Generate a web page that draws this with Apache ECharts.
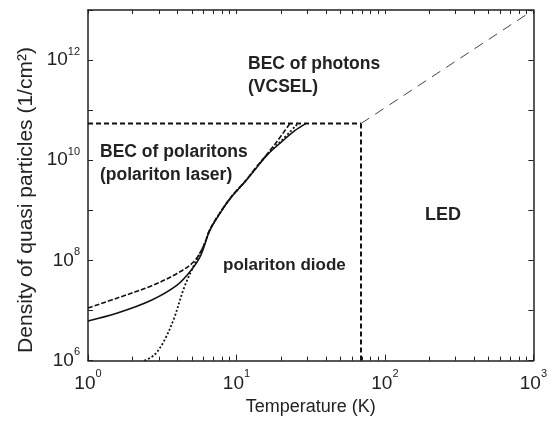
<!DOCTYPE html>
<html>
<head>
<meta charset="utf-8">
<script src="https://cdn.jsdelivr.net/npm/echarts@6/dist/echarts.min.js"></script>
<style>
  html, body { margin: 0; padding: 0; background: #fff; }
  #chart { width: 550px; height: 421px; }
</style>
</head>
<body>
<div id="chart"></div>
<script>
// temperature (K) / density (1/cm^2)
const dashedCurve = [[1, 1.12e7], [1.58, 1.78e7], [2.67, 3.1e7], [3.98, 5.5e7], [5.17, 9.5e7], [6.03, 2.0e8], [6.6, 4.1e8], [7.94, 1.0e9], [9.26, 1.9e9], [11.5, 3.9e9], [13.4, 6.9e9], [16.3, 1.4e10], [19, 2.5e10], [22.9, 5.4e10]];
const solidCurve = [[1, 6.2e6], [1.58, 8.9e6], [2.67, 1.6e7], [3.98, 3.2e7], [4.94, 6.3e7], [5.75, 1.26e8], [6.6, 3.9e8], [7.94, 9.8e8], [9.26, 1.85e9], [11.5, 3.8e9], [13.4, 6.6e9], [16.3, 1.32e10], [19.95, 2.27e10], [24.7, 3.9e10], [29.3, 5.4e10]];
const dottedCurve = [[2.4, 1e6], [2.8, 1.3e6], [3.26, 2.5e6], [3.8, 7e6], [4.43, 2.8e7], [5.17, 8e7], [6.03, 2e8], [6.6, 3.95e8], [7.94, 9.9e8], [9.26, 1.87e9], [11.5, 3.85e9], [13.4, 6.75e9], [16.3, 1.36e10], [19.95, 2.4e10], [25.9, 5.4e10]];
const polaritonLimit = [[1, 5.4e10], [69, 5.4e10]];
const ledLimit = [[69, 5.4e10], [69, 1e6]];
const photonLimit = [[69, 5.4e10], [1000, 1e13]];

const xLabelValues = [1, 10, 100, 1000];
const xMinorTicks = [2, 3, 4, 5, 6, 7, 8, 9, 20, 30, 40, 50, 60, 70, 80, 90, 200, 300, 400, 500, 600, 700, 800, 900];
const yTickValues = [1e6, 1e7, 1e8, 1e9, 1e10, 1e11, 1e12, 1e13];
const yLabelValues = [1e6, 1e8, 1e10, 1e12];

const chart = echarts.init(document.getElementById('chart'));
const frameColor = '#222';
const textColor = '#222';
const font = 'Liberation Sans, Arial, sans-serif';

function powLabel (v) {
  return '{b|10}{s|' + Math.round(Math.log10(v)) + '}';
}

function curve (data, type, width) {
  return {
    type: 'line',
    data: data,
    xAxisIndex: 0,
    yAxisIndex: 0,
    showSymbol: false,
    smooth: 0.35,
    silent: true,
    lineStyle: { color: '#111', width: width, type: type }
  };
}

const option = {
  animation: false,
  grid: { left: 88, right: 12, top: 10, bottom: 58 },
  xAxis: [{
    type: 'log',
    logBase: 10,
    min: 1,
    max: 1000,
    position: 'bottom',
    axisLine: { lineStyle: { color: frameColor, width: 1.5 } },
    axisTick: { inside: true, length: 6, customValues: xLabelValues, lineStyle: { color: frameColor } },
    axisLabel: {
      customValues: xLabelValues,
      margin: 8,
      formatter: powLabel,
      rich: {
        b: { fontSize: 19, fontFamily: font, color: textColor, lineHeight: 30 },
        s: { fontSize: 11, fontFamily: font, color: textColor, verticalAlign: 'top' }
      }
    },
    splitLine: { show: false },
    name: 'Temperature (K)',
    nameLocation: 'middle',
    nameGap: 34,
    nameTextStyle: { fontSize: 18, fontFamily: font, color: textColor }
  }, {
    type: 'log',
    logBase: 10,
    min: 1,
    max: 1000,
    position: 'bottom',
    axisLine: { show: false },
    axisTick: { inside: true, length: 4, customValues: xMinorTicks, lineStyle: { color: frameColor } },
    axisLabel: { show: false },
    splitLine: { show: false }
  }, {
    type: 'log',
    logBase: 10,
    min: 1,
    max: 1000,
    position: 'top',
    axisLine: { lineStyle: { color: frameColor, width: 1.5 } },
    axisTick: { inside: true, length: 4, customValues: xLabelValues.concat(xMinorTicks), lineStyle: { color: frameColor } },
    axisLabel: { show: false },
    splitLine: { show: false }
  }],
  yAxis: [{
    type: 'log',
    logBase: 10,
    min: 1e6,
    max: 1e13,
    position: 'left',
    axisLine: { lineStyle: { color: frameColor, width: 1.5 } },
    axisTick: { inside: true, length: 5, customValues: yTickValues, lineStyle: { color: frameColor } },
    axisLabel: {
      customValues: yLabelValues,
      margin: 8,
      formatter: powLabel,
      rich: {
        b: { fontSize: 19, fontFamily: font, color: textColor, lineHeight: 28 },
        s: { fontSize: 11, fontFamily: font, color: textColor, verticalAlign: 'top' }
      }
    },
    splitLine: { show: false }
  }, {
    type: 'log',
    logBase: 10,
    min: 1e6,
    max: 1e13,
    position: 'right',
    axisLine: { lineStyle: { color: frameColor, width: 1.5 } },
    axisTick: { inside: true, length: 5, customValues: yTickValues, lineStyle: { color: frameColor } },
    axisLabel: { show: false },
    splitLine: { show: false }
  }],
  graphic: [{
    type: 'text',
    x: 26,
    y: 200,
    rotation: Math.PI / 2,
    style: {
      text: 'Density of quasi particles (1/cm²)',
      font: '21px ' + font,
      fill: textColor,
      align: 'center',
      verticalAlign: 'middle'
    }
  }, {
    type: 'text',
    x: 248,
    y: 76,
    style: {
      text: 'BEC of photons\n(VCSEL)',
      font: 'bold 17.5px ' + font,
      lineHeight: 23,
      fill: textColor,
      align: 'left',
      verticalAlign: 'middle'
    }
  }, {
    type: 'text',
    x: 100,
    y: 164,
    style: {
      text: 'BEC of polaritons\n(polariton laser)',
      font: 'bold 17.5px ' + font,
      lineHeight: 23,
      fill: textColor,
      align: 'left',
      verticalAlign: 'middle'
    }
  }, {
    type: 'text',
    x: 223,
    y: 265,
    style: {
      text: 'polariton diode',
      font: 'bold 17px ' + font,
      fill: textColor,
      align: 'left',
      verticalAlign: 'middle'
    }
  }, {
    type: 'text',
    x: 425,
    y: 215,
    style: {
      text: 'LED',
      font: 'bold 18px ' + font,
      fill: textColor,
      align: 'left',
      verticalAlign: 'middle'
    }
  }],
  series: [
    curve(dashedCurve, [5, 2], 1.6),
    curve(solidCurve, 'solid', 1.5),
    curve(dottedCurve, [2, 2], 1.8),
    {
      type: 'line',
      data: polaritonLimit,
      showSymbol: false,
      silent: true,
      lineStyle: { color: '#111', width: 2, type: [5, 3] }
    },
    {
      type: 'line',
      data: ledLimit,
      showSymbol: false,
      silent: true,
      lineStyle: { color: '#111', width: 2, type: [5, 3] }
    },
    {
      type: 'line',
      data: photonLimit,
      showSymbol: false,
      silent: true,
      lineStyle: { color: '#444', width: 1, type: [10, 7] }
    }
  ]
};

chart.setOption(option);
</script>
</body>
</html>
